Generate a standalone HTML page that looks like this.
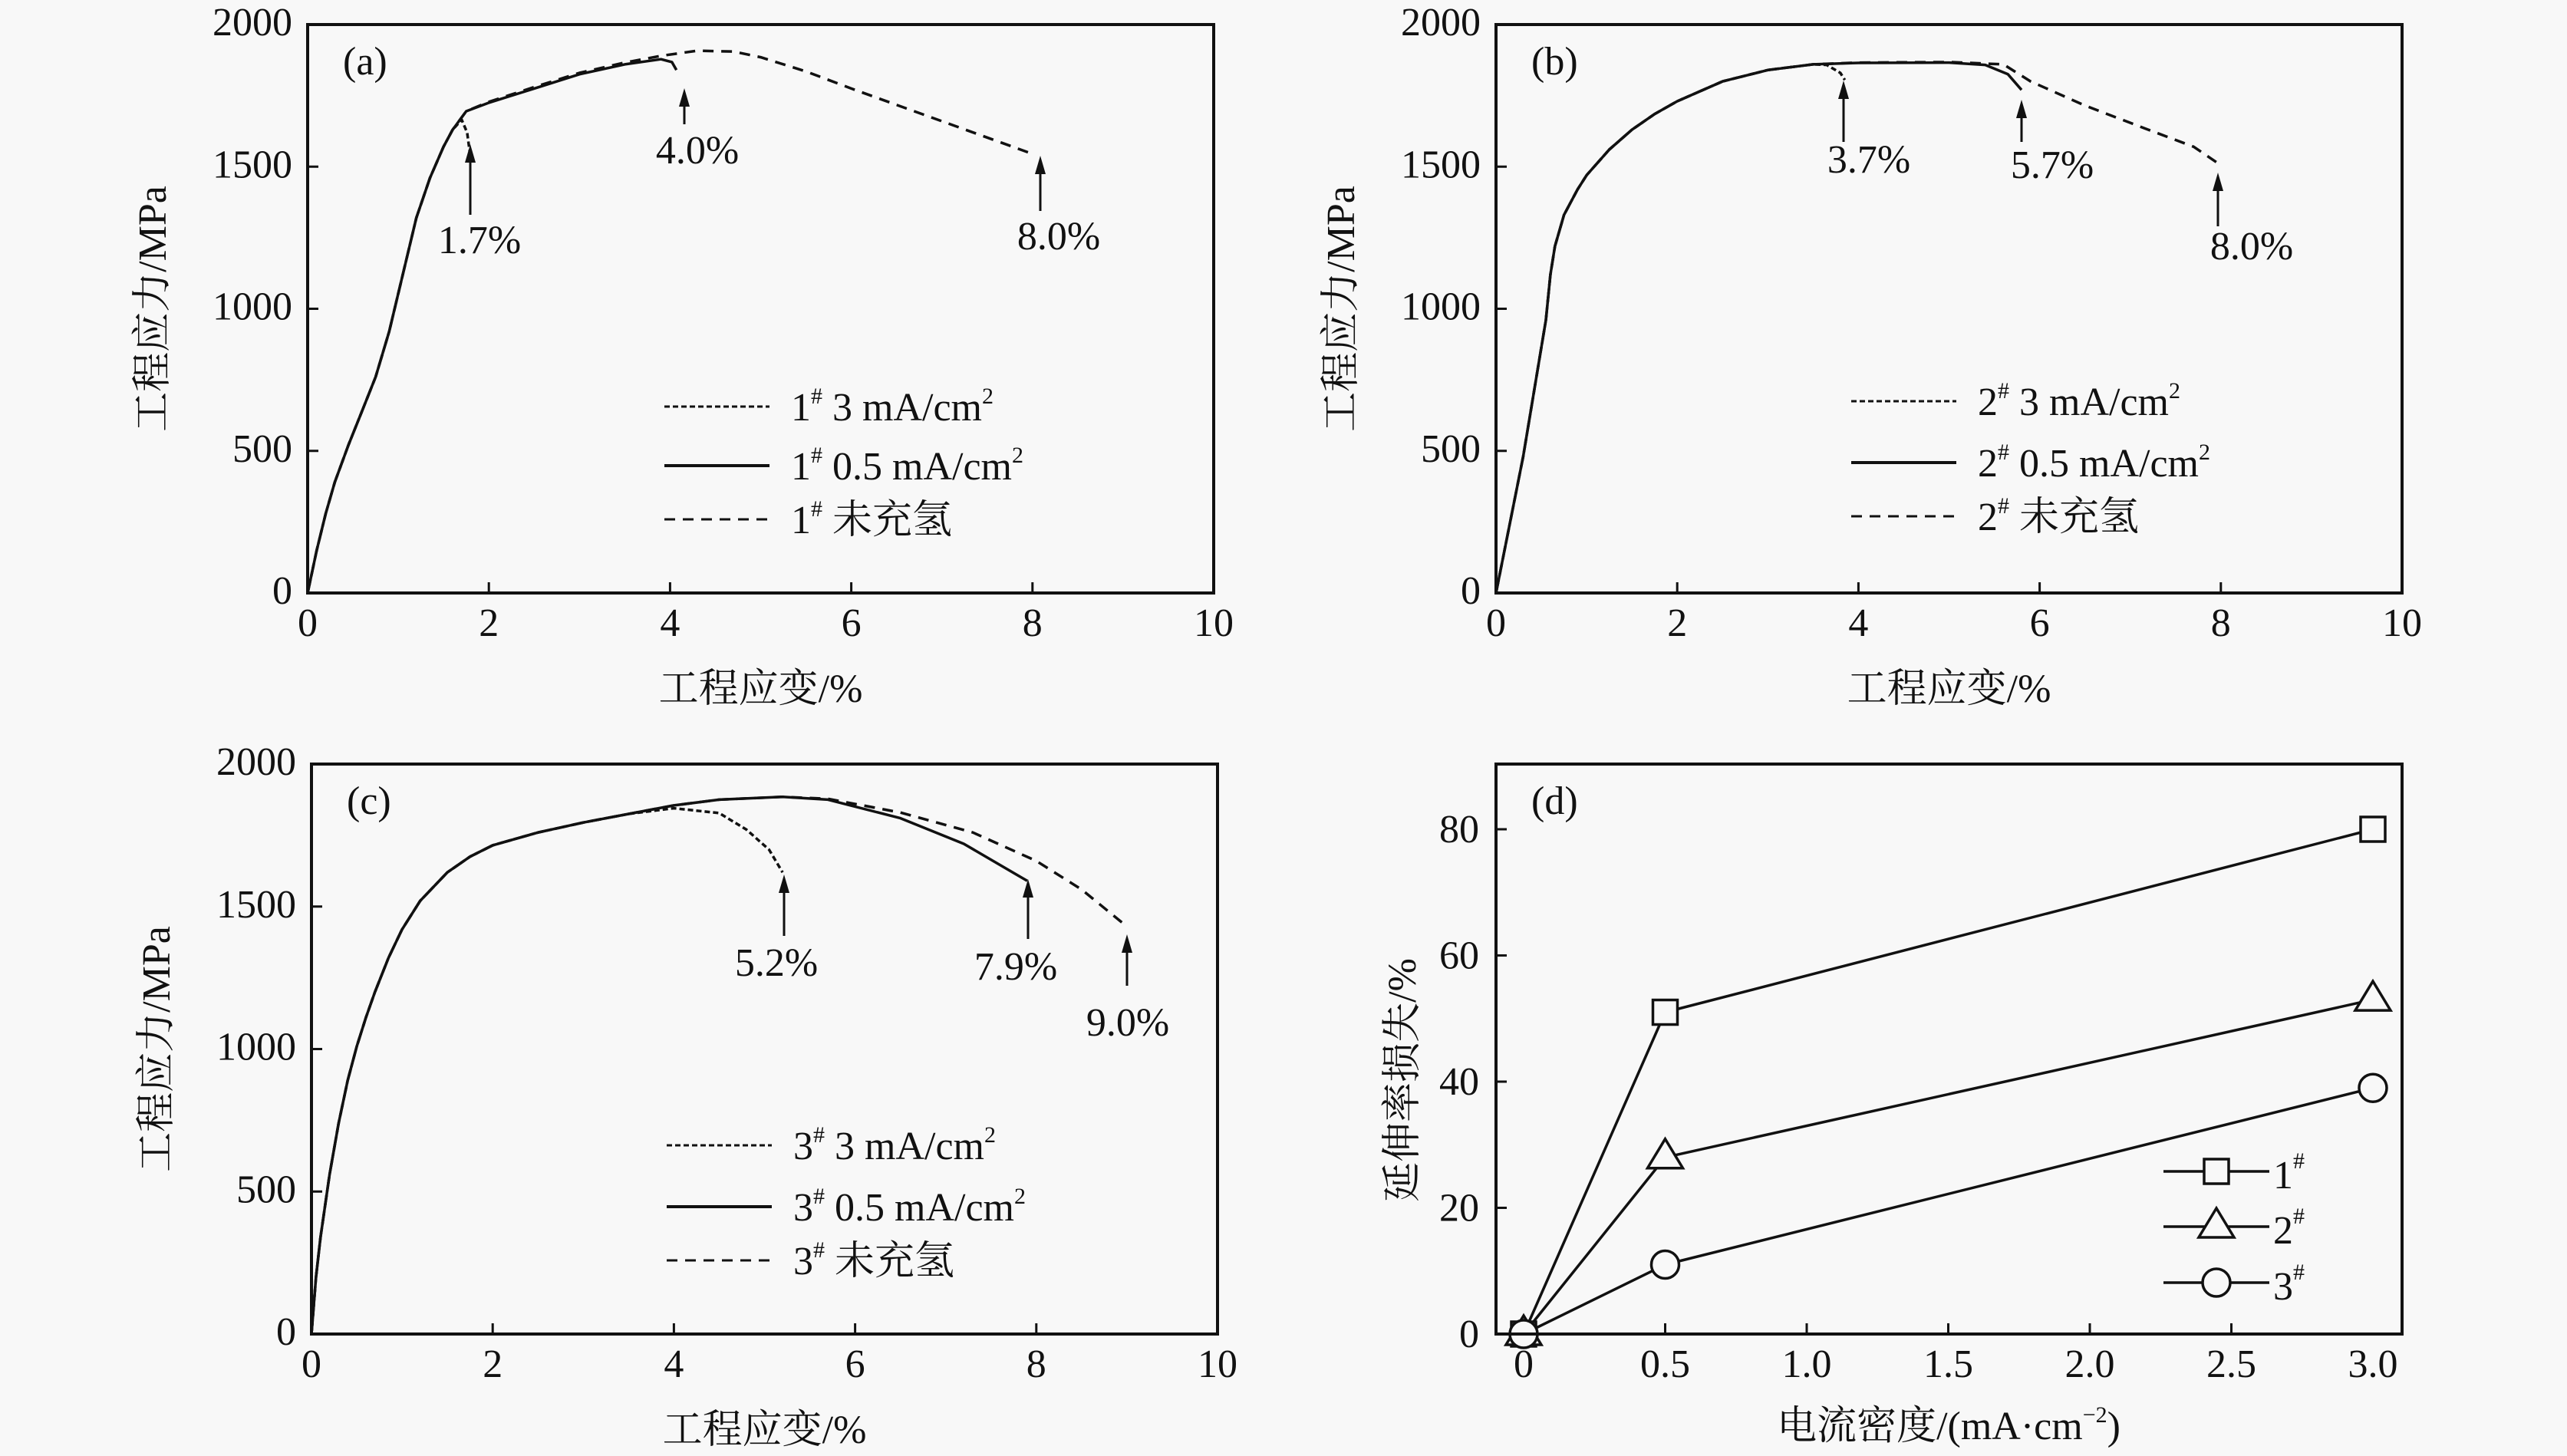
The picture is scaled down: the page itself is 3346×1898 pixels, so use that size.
<!DOCTYPE html>
<html><head><meta charset="utf-8"><style>
html,body{margin:0;padding:0;background:#f8f8f8;}
svg{display:block;}
text{font-family:"Liberation Serif","Times New Roman",serif;fill:#111;}
.cj{font-family:"Noto Serif CJK SC","Noto Sans CJK SC",serif;}
</style></head><body>
<svg id="s" width="3346" height="1898" xmlns="http://www.w3.org/2000/svg"></svg>
<script>
var S=document.getElementById('s'),h='';
function T(x,y,t,o){o=o||{};h+='<text x="'+x+'" y="'+y+'" font-size="'+(o.fs||52)+'" text-anchor="'+(o.a||'start')+'"'+(o.tr?' transform="'+o.tr+'"':'')+'>'+t+'</text>';}
function L(x1,y1,x2,y2,w,da){h+='<line x1="'+x1+'" y1="'+y1+'" x2="'+x2+'" y2="'+y2+'" stroke="#111" stroke-width="'+(w||3)+'"'+(da?' stroke-dasharray="'+da+'"':'')+'/>';}
function P(pts,da,w){h+='<polyline fill="none" stroke="#111" stroke-width="'+(w||3.5)+'" stroke-linejoin="round" points="'+pts.map(function(p){return p[0].toFixed(1)+','+p[1].toFixed(1)}).join(' ')+'"'+(da?' stroke-dasharray="'+da+'"':'')+'/>';}
function arrow(x,y1,y2){L(x,y1,x,y2+14,3);h+='<polygon points="'+x+','+y2+' '+(x-7)+','+(y2+24)+' '+(x+7)+','+(y2+24)+'" fill="#111"/>';}
function cj(s){return '<tspan class="cj">'+s+'</tspan>';}
function stress(ax,lab,curves,anns,leg,num){
 var l=ax[0],r=ax[1],t=ax[2],b=ax[3];
 var X=function(v){return l+v*(r-l)/10},Y=function(v){return b-v*(b-t)/2000};
 curves.forEach(function(c){P(c.d.map(function(p){return[X(p[0]),Y(p[1])]}),c.da);});
 h+='<rect x="'+l+'" y="'+t+'" width="'+(r-l)+'" height="'+(b-t)+'" fill="none" stroke="#111" stroke-width="4"/>';
 for(var i=0;i<=10;i+=2){if(i>0&&i<10)L(X(i),b,X(i),b-14,3);T(X(i),b+56,i,{a:'middle'});}
 for(var j=0;j<=2000;j+=500){if(j>0&&j<2000)L(l,Y(j),l+14,Y(j),3);T(l-20,Y(j)+14,j,{a:'end'});}
 T(l+46,t+65,lab);
 T((l+r)/2,b+142,cj('工程应变')+'/%',{a:'middle'});
 T(0,0,cj('工程应力')+'/MPa',{a:'middle',tr:'translate('+(l-185)+','+((t+b)/2)+') rotate(-90)'});
 anns.forEach(function(a){arrow(a[0],a[1],a[2]);T(a[3],a[4],a[5],{a:'middle'});});
 var ds=['7 4','','14 10'],ls=[' 3 mA/cm<tspan font-size="30" dy="-22">2</tspan>',' 0.5 mA/cm<tspan font-size="30" dy="-22">2</tspan>',' '+cj('未充氢')];
 for(var k=0;k<3;k++){L(leg[0],leg[1+k],leg[0]+137,leg[1+k],k==1?4:3,ds[k]);
  T(leg[0]+165,leg[1+k]+18,num+'<tspan font-size="30" dy="-22">#</tspan><tspan dy="22">'+ls[k]+'</tspan>');}
}
// (a)
var a0=[[0,0],[0.1,150],[0.2,280],[0.3,390],[0.45,520],[0.6,640],[0.75,760],[0.9,920],[1.05,1120],[1.2,1320],[1.35,1460],[1.5,1570],[1.6,1630]];
stress([401,1582,32,773],'(a)',[
 {d:a0.concat([[1.7,1665],[1.76,1620],[1.79,1550]]),da:'7 4'},
 {d:a0.concat([[1.75,1695],[2,1725],[2.5,1775],[3,1825],[3.5,1860],[3.9,1878],[4.02,1868],[4.07,1840]])},
 {d:a0.concat([[1.75,1695],[2,1728],[2.5,1780],[3,1830],[3.5,1866],[3.9,1890],[4.3,1908],[4.7,1905],[5,1885],[5.5,1835],[6,1775],[7,1660],[8,1545]]),da:'14 10'}
],[[613,280,188,625,330,'1.7%'],[892,162,115,909,213,'4.0%'],[1356,275,203,1380,325,'8.0%']],[866,530,607,677],'1');
// (b)
var b0=[[0,0],[0.3,480],[0.55,960],[0.6,1120],[0.65,1220],[0.75,1330],[0.9,1420],[1,1470],[1.25,1560],[1.5,1630],[1.75,1685],[2,1730],[2.5,1800],[3,1840],[3.5,1860]];
stress([1950,3131,32,773],'(b)',[
 {d:b0.concat([[3.65,1858],[3.8,1830],[3.85,1805]]),da:'7 4'},
 {d:b0.concat([[4,1865],[5,1866],[5.4,1858],[5.65,1825],[5.8,1770]])},
 {d:b0.concat([[4,1866],[5,1868],[5.6,1860],[5.9,1800],[6.5,1715],[7.2,1630],[7.7,1570],[8,1505]]),da:'14 10'}
],[[2403,185,105,2436,225,'3.7%'],[2635,185,130,2675,232,'5.7%'],[2891,295,225,2935,338,'8.0%']],[2413,523,603,673],'2');
// (c)
var c0=[[0,0],[0.05,200],[0.1,340],[0.2,560],[0.3,740],[0.4,890],[0.5,1010],[0.6,1110],[0.7,1200],[0.85,1320],[1,1420],[1.2,1520],[1.5,1620],[1.75,1675],[2,1715],[2.5,1760],[3,1795]];
stress([406,1587,996,1739],'(c)',[
 {d:c0.concat([[3.5,1825],[4,1845],[4.5,1828],[4.8,1770],[5.05,1700],[5.2,1620]]),da:'7 4'},
 {d:c0.concat([[3.5,1825],[4,1855],[4.5,1875],[5.2,1885],[5.7,1875],[6.5,1810],[7.2,1720],[7.9,1590]])},
 {d:c0.concat([[3.5,1825],[4,1855],[4.5,1875],[5.2,1885],[5.7,1878],[6.5,1830],[7.3,1760],[8,1660],[8.5,1560],[9,1430]]),da:'14 10'}
],[[1022,1220,1140,1012,1272,'5.2%'],[1340,1224,1146,1324,1277,'7.9%'],[1469,1285,1218,1470,1350,'9.0%']],[869,1493,1573,1643],'3');
// (d)
(function(){
 var l=1950,r=3131,t=996,b=1739;
 var X=function(v){return 1986+v*(3093-1986)/3},Y=function(v){return b-v*(b-1081)/80};
 var sets=[[0,51,80],[0,28,53],[0,11,39]],xs=[0,0.5,3];
 function mk(k,x,y){if(k==0)h+='<rect x="'+(x-16)+'" y="'+(y-16)+'" width="32" height="32" fill="#f8f8f8" stroke="#111" stroke-width="3.5"/>';
  else if(k==1)h+='<polygon points="'+x+','+(y-24)+' '+(x-23)+','+(y+14)+' '+(x+23)+','+(y+14)+'" fill="#f8f8f8" stroke="#111" stroke-width="3.5"/>';
  else h+='<circle cx="'+x+'" cy="'+y+'" r="18" fill="#f8f8f8" stroke="#111" stroke-width="3.5"/>';}
 sets.forEach(function(s){P(xs.map(function(x,i){return[X(x),Y(s[i])]}));});
 sets.forEach(function(s,k){xs.forEach(function(x,i){mk(k,X(x),Y(s[i]));});});
 h+='<rect x="'+l+'" y="'+t+'" width="'+(r-l)+'" height="'+(b-t)+'" fill="none" stroke="#111" stroke-width="4"/>';
 ['0','0.5','1.0','1.5','2.0','2.5','3.0'].forEach(function(s,i){var x=X(i*0.5);if(i>0&&i<6)L(x,b,x,b-14,3);T(x,b+56,s,{a:'middle'});});
 for(var j=0;j<=80;j+=20){if(j>0)L(l,Y(j),l+14,Y(j),3);T(l-22,Y(j)+17,j,{a:'end'});}
 T(l+46,t+65,'(d)');
 T(2540,1876,cj('电流密度')+'/(mA·cm<tspan font-size="30" dy="-22">−2</tspan><tspan dy="22">)</tspan>',{a:'middle'});
 T(0,0,cj('延伸率损失')+'/%',{a:'middle',tr:'translate(1845,1408) rotate(-90)'});
 [1527,1599,1672].forEach(function(y,k){L(2820,y,2958,y,3.5);mk(k,2889,y);T(2963,y+22,(k+1)+'<tspan font-size="30" dy="-26">#</tspan>');});
})();
S.innerHTML=h;
</script>
</body></html>
